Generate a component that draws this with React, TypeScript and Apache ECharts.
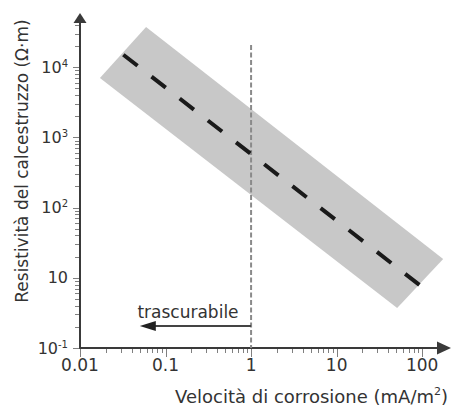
import React, { useEffect, useRef } from 'react';
import * as echarts from 'echarts';

// Axis tick positions and labels
const xTickValues = [0.01, 0.1, 1, 10, 100];
const xTickLabels = ['0.01', '0.1', '1', '10', '100'];
const yTickValues = [1, 10, 100, 1000, 10000];
const yTickLabels = ['{b|10}{s|-1}', '{b|10}', '{b|10}{s|2}', '{b|10}{s|3}', '{b|10}{s|4}'];
const xMinorTicks = [
  0.02, 0.03, 0.04, 0.05, 0.06, 0.07, 0.08, 0.09,
  0.2, 0.3, 0.4, 0.5, 0.6, 0.7, 0.8, 0.9,
  2, 3, 4, 5, 6, 7, 8, 9,
  20, 30, 40, 50, 60, 70, 80, 90,
];
const yMinorTicks = [
  2, 3, 4, 5, 6, 7, 8, 9,
  20, 30, 40, 50, 60, 70, 80, 90,
  200, 300, 400, 500, 600, 700, 800, 900,
  2000, 3000, 4000, 5000, 6000, 7000, 8000, 9000,
  20000, 30000, 40000,
];

// Scatter band (corners) and trend line
const bandX = [0.0171, 0.0592, 176, 51];
const bandY = [6970, 37100, 18.5, 3.7];
const trendX = [0.0321, 93];
const trendY = [15000, 7.9];

// Threshold at 1 mA/m2
const thresholdX = [1, 1];
const thresholdY = [20600, 1];

// "trascurabile" arrow
const negligibleX = [1, 0.05];
const negligibleY = [2.06, 2.06];
const negligibleLabel = 'trascurabile';
const negligibleLabelPos = [0.183, 3.25];

const FONT = 'DejaVu Sans';
const TEXT = '#333';

function findIdx(values: number[], v: number) {
  for (let i = 0; i < values.length; i++) {
    if (Math.abs(Math.log10(v) - Math.log10(values[i])) < 1e-6) return i;
  }
  return -1;
}

export default function App() {
  const ref = useRef<HTMLDivElement>(null);
  useEffect(() => {
    if (!ref.current) return;
    const chart = echarts.init(ref.current, undefined, { renderer: 'svg' });

    const option: any = {
      animation: false,
      grid: { left: 80, right: 8, top: 18, bottom: 64, outerBoundsMode: 'none' },
      xAxis: {
        type: 'log',
        logBase: 10,
        min: 0.01,
        max: 180,
        splitLine: { show: false },
        axisTick: { show: false },
        axisLine: {
          show: true,
          lineStyle: { color: '#3a3a3a', width: 2 },
          symbol: ['none', 'triangle'],
          symbolSize: [13, 14],
        },
        axisLabel: {
          margin: 8,
          fontFamily: FONT,
          fontSize: 17,
          color: TEXT,
          showMaxLabel: false,
          formatter: (v: number) => {
            const i = findIdx(xTickValues, v);
            return i >= 0 ? xTickLabels[i] : '';
          },
        },
      },
      yAxis: {
        type: 'log',
        logBase: 10,
        min: 1,
        max: 50000,
        splitLine: { show: false },
        axisTick: { show: false },
        axisLine: {
          show: true,
          lineStyle: { color: '#3a3a3a', width: 2 },
          symbol: ['none', 'triangle'],
          symbolSize: [13, 10],
        },
        axisLabel: {
          margin: 12,
          color: TEXT,
          showMaxLabel: false,
          formatter: (v: number) => {
            const i = findIdx(yTickValues, v);
            return i >= 0 ? yTickLabels[i] : '';
          },
          rich: {
            b: { fontFamily: FONT, fontSize: 16, color: TEXT, lineHeight: 18 },
            s: { fontFamily: FONT, fontSize: 10, color: TEXT, lineHeight: 8, verticalAlign: 'top' },
          },
        },
      },
      graphic: [
        {
          type: 'text',
          x: 448,
          y: 396,
          style: {
            text: '{a|Velocità di corrosione (mA/m}{s|2}{a|)}',
            align: 'right',
            verticalAlign: 'middle',
            rich: {
              a: { fontFamily: FONT, fontSize: 18, fill: TEXT, color: TEXT, lineHeight: 20 },
              s: { fontFamily: FONT, fontSize: 11, fill: TEXT, color: TEXT, lineHeight: 10, verticalAlign: 'top' },
            },
          },
        },
        {
          type: 'text',
          x: 22,
          y: 161,
          rotation: Math.PI / 2,
          style: {
            text: 'Resistività del calcestruzzo (Ω·m)',
            fontFamily: FONT,
            fontSize: 17,
            fill: TEXT,
            align: 'center',
            verticalAlign: 'middle',
          },
        },
      ],
      series: [
        {
          type: 'custom',
          z: 1,
          silent: true,
          data: bandX.map((x, i) => [x, bandY[i]]),
          renderItem: (params: any, api: any) => {
            if (params.dataIndex !== 0) return null;
            const pts = bandX.map((x, i) => api.coord([x, bandY[i]]));
            return { type: 'polygon', shape: { points: pts }, style: { fill: '#c8c8c8' } };
          },
        },
        {
          type: 'line',
          z: 2,
          silent: true,
          data: thresholdX.map((x, i) => [x, thresholdY[i]]),
          showSymbol: false,
          symbol: 'none',
          lineStyle: { color: '#8a8a8a', width: 2, type: [5, 2.5] },
        },
        {
          type: 'line',
          z: 3,
          silent: true,
          data: trendX.map((x, i) => [x, trendY[i]]),
          showSymbol: false,
          symbol: 'none',
          lineStyle: { color: '#1a1a1a', width: 4, type: [18, 17.7] },
        },
        {
          type: 'custom',
          z: 4,
          silent: true,
          data: [[negligibleX[0], negligibleY[0]]],
          renderItem: (params: any, api: any) => {
            const a = api.coord([negligibleX[0], negligibleY[0]]);
            const b = api.coord([negligibleX[1], negligibleY[1]]);
            const t = api.coord(negligibleLabelPos);
            return {
              type: 'group',
              children: [
                {
                  type: 'line',
                  shape: { x1: a[0], y1: a[1], x2: b[0] + 10, y2: b[1] },
                  style: { stroke: '#444', lineWidth: 2 },
                },
                {
                  type: 'polygon',
                  shape: { points: [[b[0], b[1]], [b[0] + 16, b[1] - 5], [b[0] + 16, b[1] + 5]] },
                  style: { fill: '#222' },
                },
                {
                  type: 'text',
                  x: t[0],
                  y: t[1],
                  style: {
                    text: negligibleLabel,
                    fontFamily: FONT,
                    fontSize: 17,
                    fill: TEXT,
                    align: 'center',
                    verticalAlign: 'middle',
                  },
                },
              ],
            };
          },
        },
        {
          type: 'custom',
          z: 5,
          silent: true,
          clip: false,
          data: [[1, 10]],
          renderItem: (params: any, api: any) => {
            const children: any[] = [];
            const tick = (x1: number, y1: number, x2: number, y2: number) =>
              children.push({
                type: 'line',
                shape: { x1, y1, x2, y2 },
                style: { stroke: '#808080', lineWidth: 1 },
              });
            const xTick = (v: number, len: number) => {
              const p = api.coord([v, 1]);
              const x = Math.round(p[0]) + 0.5;
              tick(x, p[1] + 1, x, p[1] + 1 + len);
            };
            const yTick = (v: number, len: number) => {
              const p = api.coord([0.01, v]);
              const y = Math.round(p[1]) + 0.5;
              tick(p[0] - 1 - len, y, p[0] - 1, y);
            };
            xTickValues.forEach((v) => xTick(v, 8));
            xMinorTicks.forEach((v) => xTick(v, 4));
            yTickValues.forEach((v) => yTick(v, 6));
            yMinorTicks.forEach((v) => yTick(v, 4));
            return { type: 'group', children };
          },
        },
      ],
    };
    chart.setOption(option);
    return () => chart.dispose();
  }, []);
  return (
    <div
      ref={ref}
      style={{ position: 'fixed', left: 0, top: 0, width: 452, height: 412, background: '#fff' }}
    />
  );
}
